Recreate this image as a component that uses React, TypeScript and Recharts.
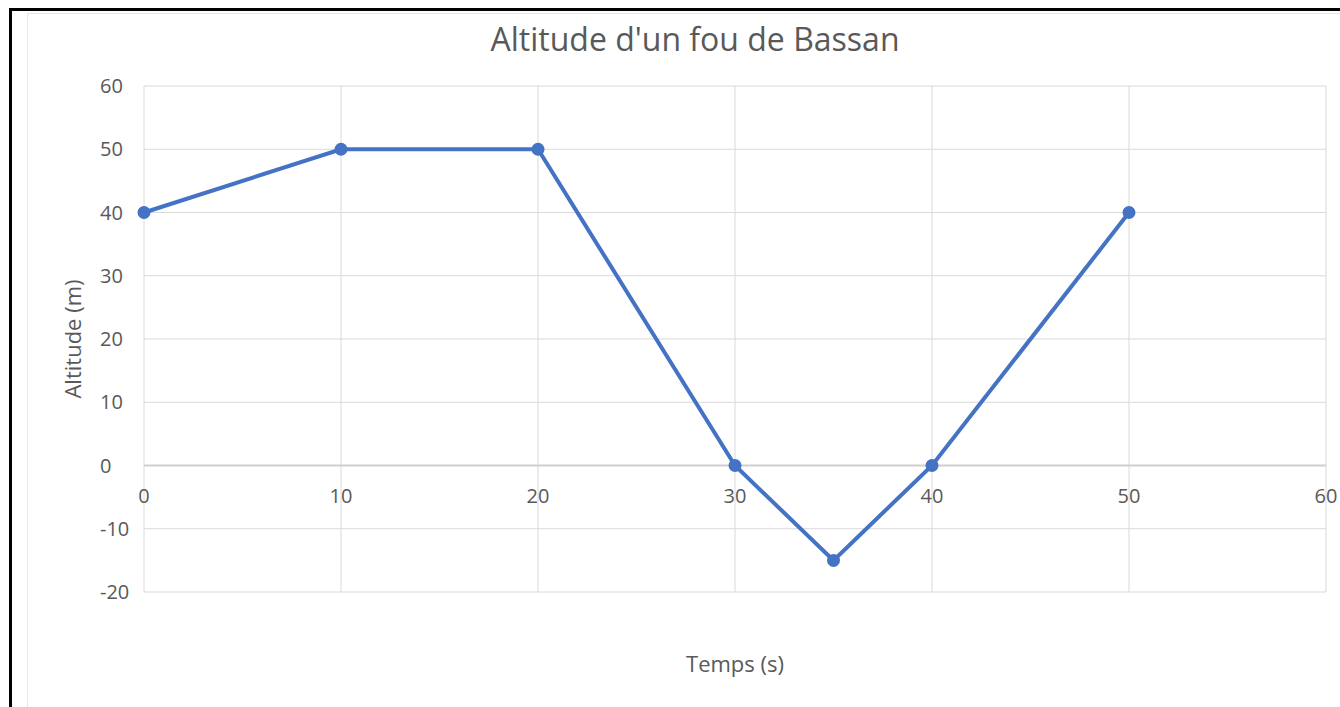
import React from "react";
import { LineChart, Line, XAxis, YAxis, CartesianGrid, ReferenceLine } from "recharts";

const times = [0, 10, 20, 30, 35, 40, 50];
const altitudes = [40, 50, 50, 0, -15, 0, 40];
const xTicks = [0, 10, 20, 30, 40, 50, 60];
const yTicks = [-20, -10, 0, 10, 20, 30, 40, 50, 60];

const data = times.map((t, i) => ({ t, alt: altitudes[i] }));

const W = 1340;
const H = 707;
const M = { top: 86, right: 14, left: 60, bottom: 85 };
const Y_AXIS_W = 84;
const X_AXIS_H = 30;
const Y_MIN = -20;
const Y_MAX = 60;
const PLOT_H = H - M.top - M.bottom - X_AXIS_H;
const ZERO_Y = M.top + (PLOT_H * (Y_MAX - 0)) / (Y_MAX - Y_MIN);

const FONT = "'Open Sans', 'Noto Sans', sans-serif";
const TXT = "#595959";

const XTick = (props: any) => {
  const { x, payload } = props;
  return (
    <text x={x} y={ZERO_Y + 37} textAnchor="middle" fill={TXT} fontSize={20} fontFamily={FONT}>
      {payload.value}
    </text>
  );
};

const YTick = (props: any) => {
  const { y, payload } = props;
  return (
    <text x={M.left + Y_AXIS_W - 44} y={y} dy={7} textAnchor="start" fill={TXT} fontSize={20} fontFamily={FONT}>
      {payload.value}
    </text>
  );
};

export default function App() {
  return (
    <div style={{ position: "absolute", left: 0, top: 0, width: W, height: H, overflow: "hidden", background: "#fff" }}>
      <div style={{ position: "absolute", left: 9, top: 8, width: 1400, height: 800, border: "3px solid #000", boxSizing: "border-box" }} />
      <div style={{ position: "absolute", left: 27, top: 13, width: 1400, height: 800, border: "1px solid #e6e6e6", boxSizing: "border-box", background: "#fff" }} />
      <div
        style={{
          position: "absolute",
          left: 445,
          width: 500,
          top: 23,
          textAlign: "center",
          fontFamily: FONT,
          fontSize: 32,
          lineHeight: 1,
          color: TXT,
          whiteSpace: "nowrap",
        }}
      >
        Altitude d'un fou de Bassan
      </div>
      <div style={{ position: "absolute", left: 0, top: 0 }}>
        <LineChart width={W} height={H} data={data} margin={M}>
          <CartesianGrid stroke="#d9d9d9" strokeWidth={1} horizontalValues={yTicks} verticalValues={xTicks} />
          <XAxis
            type="number"
            dataKey="t"
            domain={[0, 60]}
            ticks={xTicks}
            interval={0}
            height={X_AXIS_H}
            axisLine={false}
            tickLine={false}
            tick={XTick}
            label={{ value: "Temps (s)", position: "bottom", offset: 34, fill: TXT, fontSize: 22, fontFamily: FONT }}
          />
          <YAxis
            type="number"
            domain={[Y_MIN, Y_MAX]}
            ticks={yTicks}
            interval={0}
            width={Y_AXIS_W}
            axisLine={false}
            tickLine={false}
            tick={YTick}
            label={{
              value: "Altitude (m)",
              angle: -90,
              position: "insideLeft",
              offset: 13,
              fill: TXT,
              fontSize: 22,
              fontFamily: FONT,
              style: { textAnchor: "middle" },
            }}
          />
          <ReferenceLine y={0} stroke="#cfcfcf" strokeWidth={2} />
          <Line
            type="linear"
            dataKey="alt"
            stroke="#4472C4"
            strokeWidth={4}
            dot={{ r: 6.5, fill: "#4472C4", stroke: "#4472C4", strokeWidth: 0 }}
            activeDot={false}
            isAnimationActive={false}
          />
        </LineChart>
      </div>
    </div>
  );
}
